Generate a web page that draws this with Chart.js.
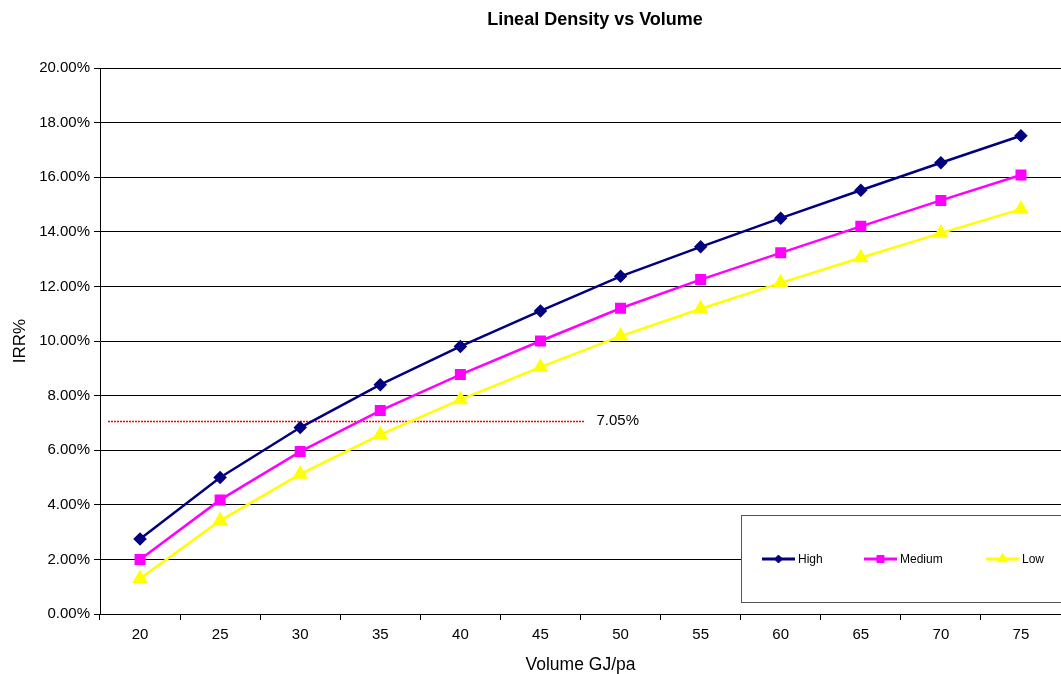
<!DOCTYPE html>
<html>
<head>
<meta charset="utf-8">
<title>Lineal Density vs Volume</title>
<script src="https://cdn.jsdelivr.net/npm/chart.js@4.4.0/dist/chart.umd.min.js"></script>
<style>
    html, body { margin: 0; padding: 0; background: #fff; overflow: hidden; }
    #wrap { position: relative; width: 1070px; height: 674px; }
</style>
</head>
<body>
<div id="wrap"><canvas id="irrChart" width="1070" height="674"></canvas></div>
<script>
// volumes on the x axis (GJ/pa)
const volumes = ['20', '25', '30', '35', '40', '45', '50', '55', '60', '65', '70', '75'];

// IRR % per density case
const highIrr   = [2.75, 5.00, 6.83, 8.40, 9.80, 11.10, 12.37, 13.45, 14.50, 15.52, 16.53, 17.52];
const mediumIrr = [2.00, 4.18, 5.95, 7.45, 8.77, 10.00, 11.20, 12.25, 13.23, 14.20, 15.15, 16.08];
const lowIrr    = [1.30, 3.42, 5.12, 6.57, 7.85, 9.04, 10.18, 11.18, 12.13, 13.05, 13.95, 14.83];

// hurdle rate line, and the span of categories it covers
const hurdleRate = 7.05;
const hurdleSpan = [-0.4, 5.55];

const chartTitle = 'Lineal Density vs Volume';
const FONT = 'Arial, "Liberation Sans", sans-serif';

// heading sits a little right of the canvas centre
const heading = {
    id: 'heading',
    afterDraw(chart) {
        const ctx = chart.ctx;
        ctx.save();
        ctx.font = 'bold 18px ' + FONT;
        ctx.fillStyle = '#000';
        ctx.textAlign = 'center';
        ctx.textBaseline = 'middle';
        ctx.fillText(chartTitle, 595, 20);
        ctx.restore();
    }
};

// legend box drawn in the lower right of the plot
const boxLegend = {
    id: 'boxLegend',
    afterDraw(chart) {
        const ctx = chart.ctx;
        const x0 = 741.5, y0 = 515.5, x1 = 1069, y1 = 602.5;
        ctx.save();
        ctx.fillStyle = '#fff';
        ctx.fillRect(x0, y0, x1 - x0, y1 - y0);
        ctx.strokeStyle = '#555';
        ctx.lineWidth = 1;
        ctx.strokeRect(x0, y0, x1 - x0, y1 - y0);
        const starts = [762, 864, 986];
        const cy = 559;
        ctx.font = '12px ' + FONT;
        ctx.textBaseline = 'middle';
        chart.data.datasets.slice(0, 3).forEach((ds, i) => {
            const sx = starts[i];
            ctx.strokeStyle = ds.borderColor;
            ctx.fillStyle = ds.borderColor;
            ctx.lineWidth = 3;
            ctx.beginPath();
            ctx.moveTo(sx, cy);
            ctx.lineTo(sx + 33, cy);
            ctx.stroke();
            ctx.lineWidth = 1;
            Chart.helpers.drawPoint(ctx, {
                pointStyle: ds.pointStyle,
                radius: ds.pointRadius - 1,
                rotation: 0,
                borderWidth: 1
            }, sx + 16.5, cy);
            ctx.fillStyle = '#000';
            ctx.fillText(ds.label, sx + 36, cy + 1);
        });
        ctx.restore();
    }
};

// value tag at the end of the hurdle line
const hurdleTag = {
    id: 'hurdleTag',
    afterDatasetsDraw(chart) {
        const meta = chart.getDatasetMeta(3);
        const end = meta.data[meta.data.length - 1];
        const ctx = chart.ctx;
        ctx.save();
        ctx.font = '15px ' + FONT;
        ctx.fillStyle = '#000';
        ctx.textBaseline = 'middle';
        ctx.fillText(hurdleRate.toFixed(2) + '%', end.x + 12, end.y - 1);
        ctx.restore();
    }
};

function series(label, data, color, style, radius) {
    return {
        label, data,
        borderColor: color,
        backgroundColor: color,
        pointBackgroundColor: color,
        pointBorderColor: color,
        pointStyle: style,
        pointRadius: radius,
        pointHoverRadius: radius,
        borderWidth: 2.5,
        tension: 0,
        xAxisID: 'x'
    };
}

new Chart(document.getElementById('irrChart'), {
    type: 'line',
    data: {
        labels: volumes,
        datasets: [
            series('High', highIrr, '#000080', 'rectRot', 5),
            series('Medium', mediumIrr, '#ff00ff', 'rect', 6),
            series('Low', lowIrr, '#ffff00', 'triangle', 6.5),
            {
                label: 'Hurdle',
                data: hurdleSpan.map(x => ({ x, y: hurdleRate })),
                xAxisID: 'xl',
                borderColor: '#ff0000',
                borderWidth: 1.5,
                borderDash: [2, 1],
                pointRadius: 0,
                pointHoverRadius: 0
            }
        ]
    },
    options: {
        responsive: false,
        animation: false,
        devicePixelRatio: 1,
        layout: { padding: { left: 0, right: 5, top: 68, bottom: 0 } },
        plugins: {
            legend: { display: false },
            tooltip: { enabled: false },
            title: { display: false }
        },
        scales: {
            x: {
                type: 'category',
                offset: true,
                grid: {
                    offset: true,
                    drawOnChartArea: false,
                    drawTicks: true,
                    tickLength: 6,
                    color: '#000'
                },
                border: { color: '#000', width: 1 },
                ticks: {
                    color: '#000',
                    font: { family: FONT, size: 15 },
                    padding: 6,
                    maxRotation: 0,
                    autoSkip: false
                },
                title: {
                    display: true,
                    text: 'Volume GJ/pa',
                    color: '#000',
                    font: { family: FONT, size: 17.5, lineHeight: 1 },
                    padding: { top: 0, bottom: 0 }
                },
                afterFit(s) { s.height = 60; }
            },
            xl: {
                type: 'linear',
                display: false,
                min: -0.5,
                max: volumes.length - 0.5
            },
            y: {
                min: 0,
                max: 20,
                ticks: {
                    stepSize: 2,
                    color: '#000',
                    font: { family: FONT, size: 15 },
                    padding: 4,
                    callback: v => v.toFixed(2) + '%'
                },
                grid: {
                    color: '#000',
                    lineWidth: 1,
                    tickLength: 6
                },
                border: { color: '#000', width: 1 },
                title: {
                    display: true,
                    text: 'IRR%',
                    color: '#000',
                    font: { family: FONT, size: 17 },
                    padding: { top: 10, bottom: 0 }
                },
                afterFit(s) { s.width = 100; }
            }
        }
    },
    plugins: [hurdleTag, boxLegend, heading]
});
</script>
</body>
</html>
